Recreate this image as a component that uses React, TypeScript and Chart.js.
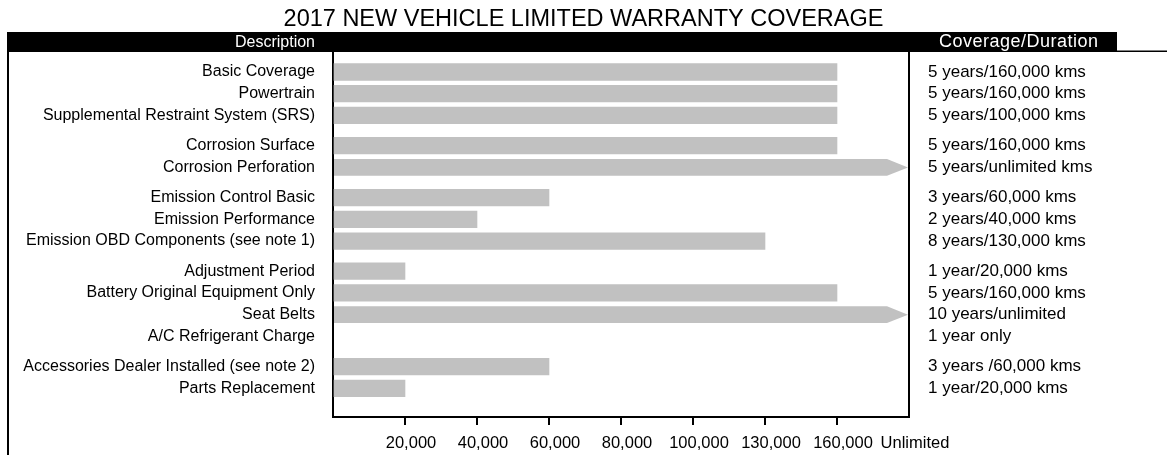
import { useEffect, useRef } from "react";
import { Chart, registerables } from "chart.js";

Chart.register(...registerables);

const chartTitle = "2017 NEW VEHICLE LIMITED WARRANTY COVERAGE";
const leftHeader = "Description";
const rightHeader = "Coverage/Duration";

const categories = [
  "Basic Coverage",
  "Powertrain",
  "Supplemental Restraint System (SRS)",
  "Corrosion Surface",
  "Corrosion Perforation",
  "Emission Control Basic",
  "Emission Performance",
  "Emission OBD Components (see note 1)",
  "Adjustment Period",
  "Battery Original Equipment Only",
  "Seat Belts",
  "A/C Refrigerant Charge",
  "Accessories Dealer Installed (see note 2)",
  "Parts Replacement",
];

const coverageText = [
  "5 years/160,000 kms",
  "5 years/160,000 kms",
  "5 years/100,000 kms",
  "5 years/160,000 kms",
  "5 years/unlimited kms",
  "3 years/60,000 kms",
  "2 years/40,000 kms",
  "8 years/130,000 kms",
  "1 year/20,000 kms",
  "5 years/160,000 kms",
  "10 years/unlimited",
  "1 year only",
  "3 years /60,000 kms",
  "1 year/20,000 kms",
];

// group each row belongs to (rows in the same group are packed together)
const groups = [0, 0, 0, 1, 1, 2, 2, 2, 3, 3, 3, 3, 4, 4];

const UNLIMITED = "Unlimited";

// bar lengths (kms), "Unlimited" = arrow, null = no bar
const coverageKms: (number | string | null)[] = [
  160000, 160000, 160000, 160000, UNLIMITED, 60000, 40000, 130000, 20000,
  160000, UNLIMITED, null, 60000, 20000,
];

// x axis stops (evenly spaced on the axis)
const xTickValues: (number | string)[] = [
  0, 20000, 40000, 60000, 80000, 100000, 130000, 160000, UNLIMITED,
];
const xTickLabels = [
  "", "20,000", "40,000", "60,000", "80,000", "100,000", "130,000", "160,000", "Unlimited",
];

// layout constants
const GROUP_GAP = 0.387;
const PAD_TOP_ROWS = 0.92;
const PAD_BOTTOM_ROWS = 1.32;
const BAR_COLOR = "#c1c1c1";
const FONT = '"Liberation Sans", Arial, Helvetica, sans-serif';

export default function App() {
  const canvasRef = useRef<HTMLCanvasElement | null>(null);

  useEffect(() => {
    const canvas = canvasRef.current;
    if (!canvas) return;

    const positions = categories.map((_, i) => i + GROUP_GAP * groups[i]);
    const yMin = -PAD_TOP_ROWS;
    const yMax = positions[positions.length - 1] + PAD_BOTTOM_ROWS;

    Chart.defaults.font.family = FONT;
    Chart.defaults.color = "#000";

    const decor = {
      id: "decor",
      beforeDraw(chart: any) {
        const { ctx, chartArea: a, width, height } = chart;
        ctx.save();
        ctx.fillStyle = "#fff";
        ctx.fillRect(0, 0, width, height);
        ctx.fillStyle = "#000";
        // header bar
        ctx.fillRect(7, a.top - 20, 1110, 20);
        ctx.fillRect(1117, a.top - 1.5, width - 1117, 1.5);
        // left frame line
        ctx.fillRect(7, a.top, 2, height - a.top);
        // header texts
        ctx.fillStyle = "#fff";
        ctx.font = "16px " + FONT;
        ctx.textBaseline = "middle";
        ctx.textAlign = "right";
        ctx.fillText(leftHeader, a.left - 18, a.top - 9.5);
        ctx.textAlign = "left";
        ctx.font = "18px " + FONT;
        try {
          (ctx as any).letterSpacing = "0.5px";
        } catch (e) {}
        ctx.fillText(rightHeader, a.right + 30, a.top - 9.5);
        ctx.restore();
      },
      afterDatasetsDraw(chart: any) {
        const { ctx } = chart;
        const meta = chart.getDatasetMeta(0);
        ctx.save();
        ctx.fillStyle = BAR_COLOR;
        meta.data.forEach((el: any, i: number) => {
          if (coverageKms[i] !== UNLIMITED) return;
          const { x, y, base, height } = el.getProps(["x", "y", "base", "height"], true);
          const h = height / 2;
          const head = 22;
          ctx.beginPath();
          ctx.moveTo(base, y - h);
          ctx.lineTo(x - head, y - h);
          ctx.lineTo(x - 1, y);
          ctx.lineTo(x - head, y + h);
          ctx.lineTo(base, y + h);
          ctx.closePath();
          ctx.fill();
        });
        ctx.restore();
      },
    };

    const chart = new Chart(canvas, {
      type: "bar",
      data: {
        datasets: [
          {
            data: categories.map((_, i) => ({
              x: coverageKms[i] === null ? null : xTickValues.indexOf(coverageKms[i] as any),
              y: positions[i],
            })) as any,
            backgroundColor: coverageKms.map((v) => (v === UNLIMITED ? "rgba(0,0,0,0)" : BAR_COLOR)),
            borderWidth: 0,
            barThickness: 16.6,
            xAxisID: "x",
            yAxisID: "y",
          },
        ],
      },
      options: {
        indexAxis: "y",
        animation: false,
        responsive: true,
        maintainAspectRatio: false,
        layout: { padding: 0 },
        plugins: {
          legend: { display: false },
          tooltip: { enabled: false },
          title: {
            display: true,
            text: chartTitle,
            color: "#000",
            font: { size: 23.5, weight: "normal", lineHeight: 1.2, family: FONT },
            padding: { top: 5.5, bottom: 18.3 },
          },
        },
        scales: {
          x: {
            type: "linear",
            min: 0,
            max: xTickValues.length - 1,
            offset: false,
            afterBuildTicks: (s: any) => {
              s.ticks = xTickValues.map((_, i) => ({ value: i }));
            },
            afterFit: (s: any) => {
              s.height = 38;
            },
            grid: {
              offset: false,
              drawOnChartArea: false,
              drawTicks: true,
              tickLength: 8,
              lineWidth: 2,
              color: (c: any) =>
                c.index === 0 || c.index === xTickValues.length - 1 ? "rgba(0,0,0,0)" : "#000",
            },
            border: { display: true, color: "#000", width: 2 },
            ticks: {
              autoSkip: false,
              maxRotation: 0,
              padding: 9,
              labelOffset: 6,
              color: "#000",
              font: { size: 16.5 },
              callback: (_v: any, i: number) => xTickLabels[i],
            },
          },
          y: {
            type: "linear",
            position: "left",
            reverse: true,
            offset: false,
            min: yMin,
            max: yMax,
            afterBuildTicks: (s: any) => {
              s.ticks = positions.map((v) => ({ value: v }));
            },
            afterFit: (s: any) => {
              s.width = 333;
            },
            grid: { display: false, drawTicks: false, offset: false },
            border: { display: true, color: "#000", width: 2 },
            ticks: {
              autoSkip: false,
              padding: 18,
              color: "#000",
              font: { size: 16 },
              callback: (_v: any, i: number) => categories[i],
            },
          },
          y2: {
            type: "linear",
            position: "right",
            reverse: true,
            offset: false,
            min: yMin,
            max: yMax,
            afterBuildTicks: (s: any) => {
              s.ticks = positions.map((v) => ({ value: v }));
            },
            afterFit: (s: any) => {
              s.width = 258;
            },
            grid: { display: false, drawTicks: false, offset: false },
            border: { display: true, color: "#000", width: 2 },
            ticks: {
              autoSkip: false,
              padding: 19,
              color: "#000",
              font: { size: 17 },
              callback: (_v: any, i: number) => coverageText[i],
            },
          },
        },
      } as any,
      plugins: [decor],
    });

    return () => chart.destroy();
  }, []);

  return (
    <div
      style={{
        position: "fixed",
        left: 0,
        top: 0,
        width: 1167,
        height: 455,
        background: "#fff",
      }}
    >
      <canvas ref={canvasRef} />
    </div>
  );
}
